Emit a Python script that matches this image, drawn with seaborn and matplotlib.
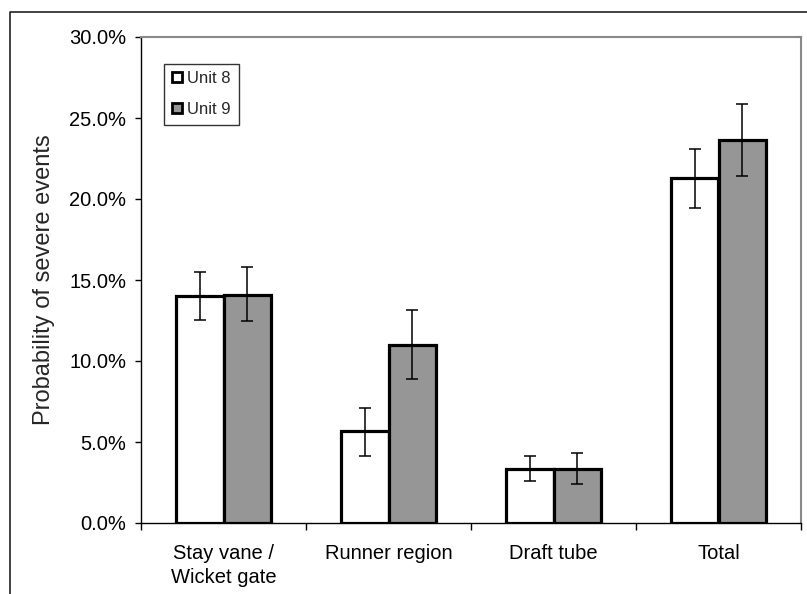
import matplotlib
matplotlib.use("Agg")
import matplotlib.pyplot as plt
from matplotlib.lines import Line2D
from matplotlib.ticker import FixedLocator, PercentFormatter
import seaborn as sns
import pandas as pd
import numpy as np

categories = ["Stay vane /\nWicket gate", "Runner region", "Draft tube", "Total"]
units = ["Unit 8", "Unit 9"]
unit8 = [14.0, 5.65, 3.35, 21.3]
unit9 = [14.1, 11.0, 3.35, 23.65]
unit8_low = [12.55, 4.15, 2.6, 19.45]
unit8_high = [15.5, 7.1, 4.15, 23.1]
unit9_low = [12.45, 8.9, 2.4, 21.4]
unit9_high = [15.8, 13.15, 4.35, 25.85]
yticks = [0, 5, 10, 15, 20, 25, 30]

colors = {"Unit 8": "#ffffff", "Unit 9": "#969696"}

sns.set_theme(style="white")
plt.rcParams["font.family"] = ["Liberation Sans", "DejaVu Sans"]

df = pd.DataFrame({
    "category": categories * 2,
    "unit": [units[0]] * 4 + [units[1]] * 4,
    "value": unit8 + unit9,
})

fig = plt.figure(figsize=(8.07, 5.94), dpi=100)
ax = fig.add_axes([141 / 807, 1 - 523 / 594, 660 / 807, 486 / 594])

sns.barplot(data=df, x="category", y="value", hue="unit", order=categories,
            hue_order=units, palette=colors, width=0.57, errorbar=None,
            edgecolor="black", linewidth=2.3, saturation=1, ax=ax, legend=False)

lows = [unit8_low, unit9_low]
highs = [unit8_high, unit9_high]
vals = [unit8, unit9]
bar_containers = list(ax.containers)
for k, cont in enumerate(bar_containers):
    xs = [p.get_x() + p.get_width() / 2 for p in cont.patches]
    v = np.array(vals[k])
    yerr = np.vstack([v - np.array(lows[k]), np.array(highs[k]) - v])
    ax.errorbar(xs, v, yerr=yerr, fmt="none", ecolor="black", elinewidth=1.1,
                capsize=4.3, capthick=1.1, zorder=5)

ax.set_xlim(-0.5, 3.5)
ax.set_ylim(0, 30)
ax.yaxis.set_major_locator(FixedLocator(yticks))
ax.yaxis.set_major_formatter(PercentFormatter(decimals=1))
ax.set_xlabel("")
ax.set_ylabel("Probability of severe events", fontsize=17, labelpad=10)

ax.tick_params(axis="y", which="major", length=4.5, width=1, color="black",
               direction="out", left=True, labelsize=14.5, pad=6, labelcolor="black")
ax.tick_params(axis="x", which="major", length=0, labelsize=14.5, pad=15, labelcolor="black")
ax.xaxis.set_minor_locator(FixedLocator([-0.5, 0.5, 1.5, 2.5, 3.5]))
ax.tick_params(axis="x", which="minor", length=5, width=1, color="black",
               direction="out", bottom=True)
for lbl in ax.get_xticklabels():
    lbl.set_linespacing(1.35)

for side in ["left", "bottom"]:
    ax.spines[side].set_color("black")
    ax.spines[side].set_linewidth(1.0)
for side in ["top", "right"]:
    ax.spines[side].set_visible(True)
    ax.spines[side].set_color("#888888")
    ax.spines[side].set_linewidth(1.5)

handles = [
    Line2D([], [], linestyle="none", marker="s", markersize=7.5,
           markerfacecolor=colors[u], markeredgecolor="black", markeredgewidth=2.0)
    for u in units
]
leg = ax.legend(handles, units, loc="upper left", bbox_to_anchor=(0.035, 0.945),
                borderaxespad=0, fontsize=12, frameon=True, fancybox=False,
                handlelength=0.7, handletextpad=0.25, labelspacing=0.95,
                borderpad=0.45, edgecolor="black")
leg.get_frame().set_linewidth(1.0)

fig.add_artist(Line2D([10 / 807, 10 / 807, 1.0], [0.0, 1 - 12 / 594, 1 - 12 / 594],
                      transform=fig.transFigure, color="#222222", linewidth=1.2))

fig.savefig("out.png", dpi=100)
